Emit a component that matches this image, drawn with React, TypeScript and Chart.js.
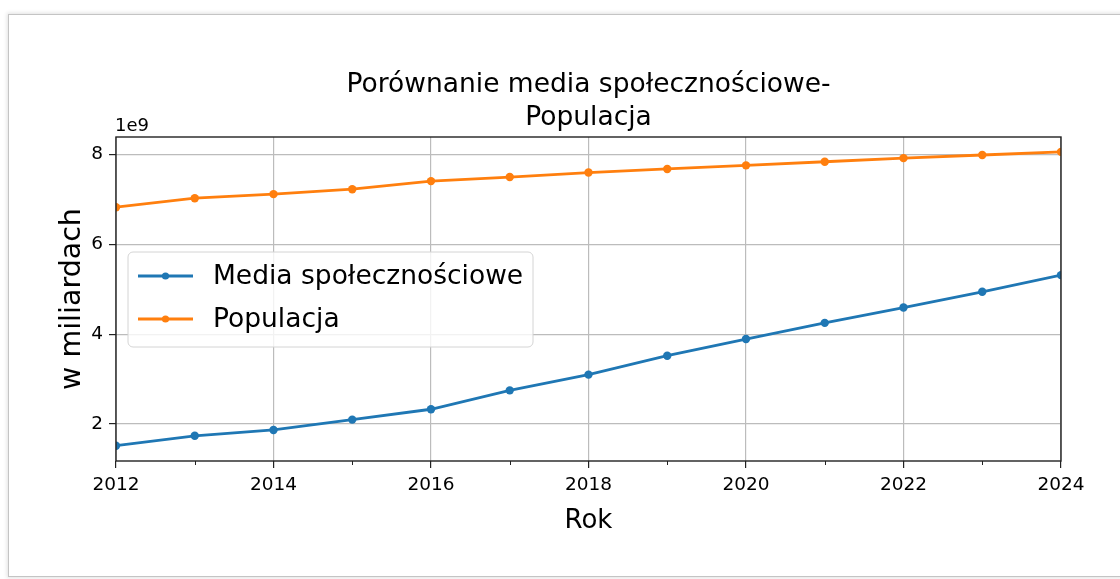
import { useEffect, useRef } from "react";
import { Chart, registerables } from "chart.js";

Chart.register(...registerables);

const years = [2012, 2013, 2014, 2015, 2016, 2017, 2018, 2019, 2020, 2021, 2022, 2023, 2024];
const socialMedia = [1.52, 1.74, 1.87, 2.10, 2.33, 2.75, 3.10, 3.52, 3.89, 4.25, 4.59, 4.94, 5.31];
const population = [6.82, 7.02, 7.11, 7.22, 7.40, 7.49, 7.59, 7.67, 7.75, 7.83, 7.91, 7.98, 8.05];
const xTicks = [2012, 2014, 2016, 2018, 2020, 2022, 2024];
const xMinorTicks = [2013, 2015, 2017, 2019, 2021, 2023];
const yTicks = [2, 4, 6, 8];
const titleLines = ["Porównanie media społecznościowe-", "Populacja"];
const seriesLabels = ["Media społecznościowe", "Populacja"];
const seriesColors = ["#1f77b4", "#ff7f0e"];
const xTitle = "Rok";
const yTitle = "w miliardach";
const offsetText = "1e9";

const FONT = '"DejaVu Sans", sans-serif';

const decorPlugin = {
  id: "decor",
  afterDraw(chart: any) {
    const ctx = chart.ctx as CanvasRenderingContext2D;
    const area = chart.chartArea;
    const xs = chart.scales.x;
    const cx = (area.left + area.right) / 2;
    ctx.save();

    // minor ticks
    ctx.strokeStyle = "#222";
    ctx.lineWidth = 1;
    xMinorTicks.forEach((v) => {
      const px = Math.round(xs.getPixelForValue(v)) + 0.5;
      ctx.beginPath();
      ctx.moveTo(px, area.bottom);
      ctx.lineTo(px, area.bottom + 4);
      ctx.stroke();
    });

    // axes frame
    ctx.strokeStyle = "#222";
    ctx.lineWidth = 1.4;
    ctx.strokeRect(area.left, area.top, area.right - area.left, area.bottom - area.top);

    // title
    ctx.fillStyle = "#000";
    ctx.textAlign = "center";
    ctx.textBaseline = "alphabetic";
    ctx.font = `26.5px ${FONT}`;
    ctx.fillText(titleLines[0], cx, 92);
    ctx.fillText(titleLines[1], cx, 125);

    // offset text
    ctx.textAlign = "left";
    ctx.font = `18px ${FONT}`;
    ctx.fillText(offsetText, area.left - 1, 131);

    // x title
    ctx.textAlign = "center";
    ctx.font = `26px ${FONT}`;
    ctx.fillText(xTitle, cx, 528);

    // y title
    ctx.save();
    ctx.translate(80, (area.top + area.bottom) / 2);
    ctx.rotate(-Math.PI / 2);
    ctx.textAlign = "center";
    ctx.textBaseline = "alphabetic";
    ctx.font = `28.5px ${FONT}`;
    ctx.fillText(yTitle, 0, 0);
    ctx.restore();

    // legend
    const lx = 128, ly = 252, lw = 405, lh = 95, r = 5;
    ctx.beginPath();
    ctx.moveTo(lx + r, ly);
    ctx.lineTo(lx + lw - r, ly);
    ctx.arcTo(lx + lw, ly, lx + lw, ly + r, r);
    ctx.lineTo(lx + lw, ly + lh - r);
    ctx.arcTo(lx + lw, ly + lh, lx + lw - r, ly + lh, r);
    ctx.lineTo(lx + r, ly + lh);
    ctx.arcTo(lx, ly + lh, lx, ly + lh - r, r);
    ctx.lineTo(lx, ly + r);
    ctx.arcTo(lx, ly, lx + r, ly, r);
    ctx.closePath();
    ctx.fillStyle = "rgba(255,255,255,0.8)";
    ctx.fill();
    ctx.strokeStyle = "#d4d4d4";
    ctx.lineWidth = 1;
    ctx.stroke();

    const rows = [276, 319];
    seriesLabels.forEach((label, i) => {
      const y = rows[i];
      ctx.strokeStyle = seriesColors[i];
      ctx.lineWidth = 2.8;
      ctx.beginPath();
      ctx.moveTo(138, y);
      ctx.lineTo(193, y);
      ctx.stroke();
      ctx.fillStyle = seriesColors[i];
      ctx.beginPath();
      ctx.arc(165.5, y, 3.6, 0, Math.PI * 2);
      ctx.fill();
      ctx.fillStyle = "#000";
      ctx.textAlign = "left";
      ctx.textBaseline = "middle";
      ctx.font = `26.5px ${FONT}`;
      ctx.fillText(label, 213, y + 1);
    });

    ctx.restore();
  },
};

export default function App() {
  const canvasRef = useRef<HTMLCanvasElement | null>(null);

  useEffect(() => {
    const canvas = canvasRef.current;
    if (!canvas) return;
    const toPoints = (vals: number[]) => years.map((x, i) => ({ x, y: vals[i] }));
    const chart = new Chart(canvas, {
      type: "line",
      data: {
        datasets: [
          {
            label: seriesLabels[0],
            data: toPoints(socialMedia),
            borderColor: seriesColors[0],
            backgroundColor: seriesColors[0],
            borderWidth: 2.8,
            pointRadius: 4.2,
            pointBorderWidth: 0,
            pointBackgroundColor: seriesColors[0],
            tension: 0,
            clip: 0,
          },
          {
            label: seriesLabels[1],
            data: toPoints(population),
            borderColor: seriesColors[1],
            backgroundColor: seriesColors[1],
            borderWidth: 2.8,
            pointRadius: 4.2,
            pointBorderWidth: 0,
            pointBackgroundColor: seriesColors[1],
            tension: 0,
            clip: 0,
          },
        ],
      },
      options: {
        animation: false,
        responsive: false,
        devicePixelRatio: 1,
        layout: { padding: { left: 16, top: 137, right: 59, bottom: 0 } },
        plugins: {
          legend: { display: false },
          title: { display: false },
          tooltip: { enabled: false },
        },
        scales: {
          x: {
            type: "linear",
            min: 2012,
            max: 2024,
            afterBuildTicks: (scale: any) => {
              scale.ticks = xTicks.map((v) => ({ value: v }));
            },
            afterFit: (scale: any) => {
              scale.height = 118;
            },
            grid: {
              color: "#bcbcbc",
              lineWidth: 1.2,
              tickLength: 7,
              tickColor: "#222",
            },
            border: { display: false },
            ticks: {
              font: { family: FONT, size: 18.5 },
              color: "#000",
              padding: 6,
              maxRotation: 0,
              autoSkip: false,
              callback: (v: any) => String(v),
            },
          },
          y: {
            type: "linear",
            min: 1.18,
            max: 8.38,
            afterBuildTicks: (scale: any) => {
              scale.ticks = yTicks.map((v) => ({ value: v }));
            },
            afterFit: (scale: any) => {
              scale.width = 100;
            },
            grid: {
              color: "#bcbcbc",
              lineWidth: 1.2,
              tickLength: 7,
              tickColor: "#222",
            },
            border: { display: false },
            ticks: {
              font: { family: FONT, size: 18.5 },
              color: "#000",
              padding: 6,
              autoSkip: false,
              callback: (v: any) => String(v),
            },
          },
        },
      },
      plugins: [decorPlugin],
    } as any);
    return () => chart.destroy();
  }, []);

  return (
    <div
      style={{
        position: "fixed",
        left: 0,
        top: 0,
        width: 1120,
        height: 579,
        overflow: "hidden",
        background: "#fff",
      }}
    >
      <div
        style={{
          position: "absolute",
          left: 8,
          top: 14,
          width: 1150,
          height: 561,
          border: "1px solid #c4c4c4",
          boxShadow: "0 0 4px 1px rgba(0,0,0,0.12)",
          background: "#fff",
        }}
      />
      <canvas
        ref={canvasRef}
        width={1120}
        height={579}
        style={{ position: "absolute", left: 0, top: 0 }}
      />
    </div>
  );
}
